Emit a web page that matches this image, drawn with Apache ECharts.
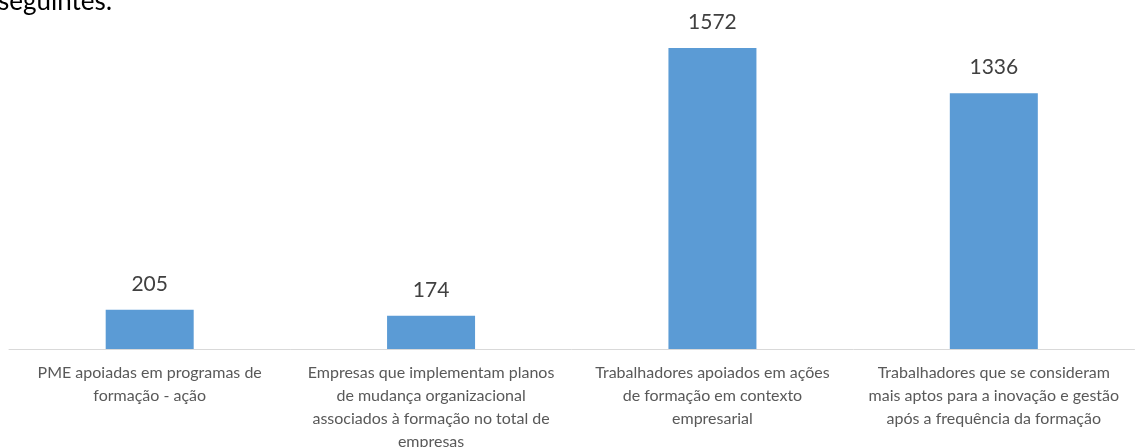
<!DOCTYPE html>
<html>
<head>
<meta charset="utf-8">
<script src="https://cdn.jsdelivr.net/npm/echarts@6/dist/echarts.min.js"></script>
<style>
html,body{margin:0;padding:0;background:#fff;}
#c{width:1137px;height:447px;}
</style>
</head>
<body>
<div id="c"></div>
<script>
const categories = [
  "PME apoiadas em programas de\nformação - ação",
  "Empresas que implementam planos\nde mudança organizacional\nassociados à formação no total de\nempresas",
  "Trabalhadores apoiados em ações\nde formação em contexto\nempresarial",
  "Trabalhadores que se consideram\nmais aptos para a inovação e gestão\napós a frequência da formação"
];
const values = [205, 174, 1572, 1336];
const headingText = "seguintes:";

const chart = echarts.init(document.getElementById('c'), null, {renderer: 'canvas'});
chart.setOption({
  animation: false,
  backgroundColor: '#ffffff',
  grid: {left: 9, right: 2.5, top: 4.3, bottom: 98, containLabel: false, outerBoundsMode: 'none'},
  graphic: [{
    type: 'text',
    x: -2,
    y: 2,
    style: {text: headingText, font: '26px Lato', fill: '#000000', verticalAlign: 'middle'}
  }],
  xAxis: {
    type: 'category',
    data: categories,
    axisLine: {show: true, lineStyle: {color: '#d9d9d9', width: 1}},
    axisTick: {show: false},
    axisLabel: {
      interval: 0,
      color: '#595959',
      fontFamily: 'Lato',
      fontSize: 16,
      lineHeight: 23,
      margin: 12.5,
      align: 'center'
    }
  },
  yAxis: {
    type: 'value',
    min: 0,
    max: 1800,
    show: false,
    splitLine: {show: false}
  },
  series: [{
    type: 'bar',
    data: values,
    barWidth: 88,
    itemStyle: {color: '#5b9bd5'},
    label: {
      show: true,
      position: 'top',
      distance: 15,
      color: '#404040',
      fontFamily: 'Lato',
      fontSize: 21
    }
  }]
});
</script>
</body>
</html>
